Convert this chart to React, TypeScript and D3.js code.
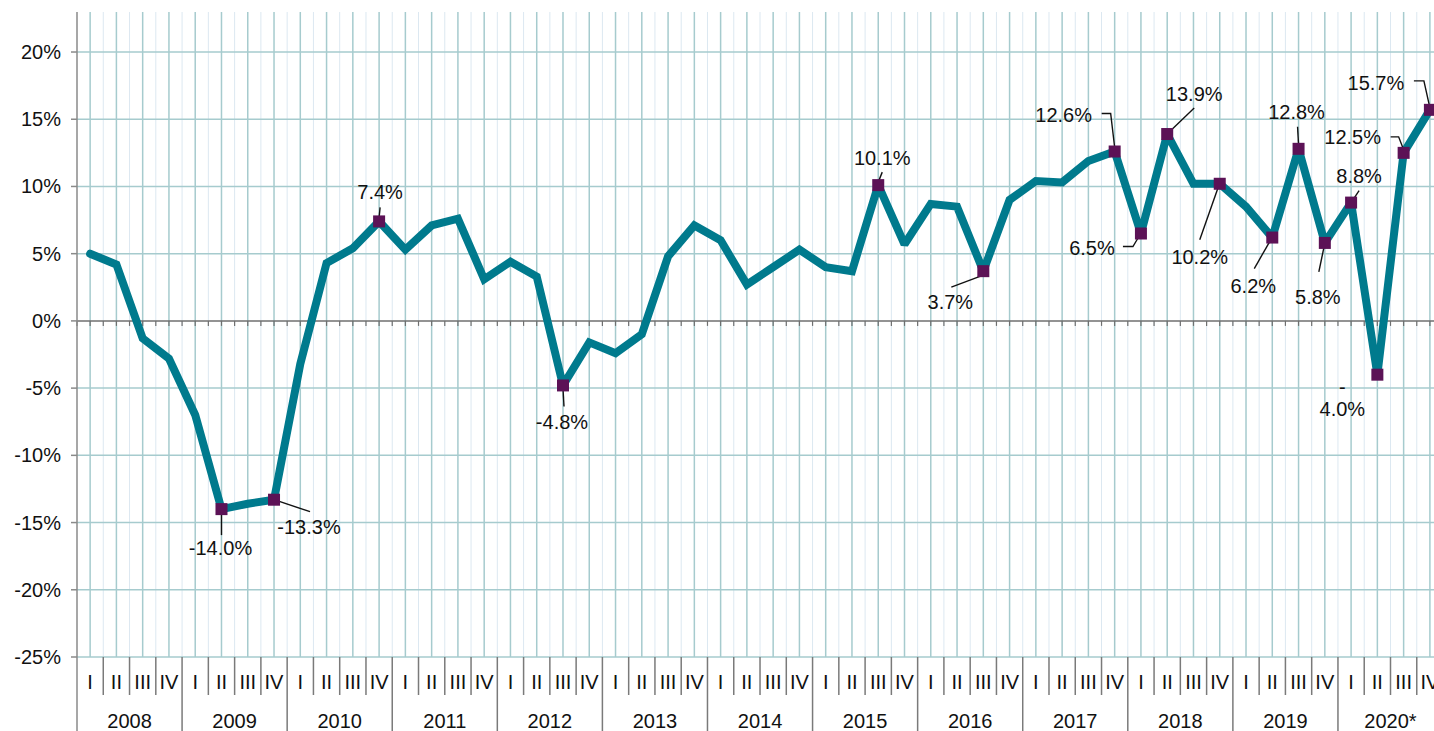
import * as d3 from "d3";
import { useEffect, useRef } from "react";

const years = ["2008", "2009", "2010", "2011", "2012", "2013", "2014", "2015", "2016", "2017", "2018", "2019", "2020*"];
const quarters = ["I", "II", "III", "IV"];

// year-on-year change, one value per quarter, 2008 I .. 2020 IV
const growth = [
  5.0, 4.2, -1.3, -2.8,
  -7.0, -14.0, -13.6, -13.3,
  -3.2, 4.3, 5.4, 7.4,
  5.3, 7.1, 7.6, 3.1,
  4.4, 3.3, -4.8, -1.6,
  -2.4, -1.0, 4.8, 7.1,
  6.0, 2.7, 4.0, 5.3,
  4.0, 3.7, 10.1, 5.7,
  8.7, 8.5, 3.7, 9.0,
  10.4, 10.3, 11.9, 12.6,
  6.5, 13.9, 10.2, 10.2,
  8.5, 6.2, 12.8, 5.8,
  8.8, -4.0, 12.5, 15.7,
];

const yTicks = [20, 15, 10, 5, 0, -5, -10, -15, -20, -25];

// quarters that get a marker and a value label
const marked = [5, 7, 11, 18, 30, 34, 39, 40, 41, 43, 45, 46, 47, 48, 49, 50, 51];

// label placement relative to the marker: label centre + leader polyline
const labelLayout: Record<number, { dx: number; dy: number; leader: [number, number][]; split?: boolean }> = {
  5: { dx: -1, dy: 39, leader: [[0, 5], [0, 26]] },
  7: { dx: 35, dy: 27, leader: [[3, 1], [36, 12]] },
  11: { dx: 1, dy: -29, leader: [[0, -4], [1, -14]] },
  18: { dx: -1, dy: 37, leader: [[0, 3], [1, 21]] },
  30: { dx: 4, dy: -27, leader: [[0, -3], [4, -13]] },
  34: { dx: -33, dy: 31, leader: [[0, 4], [-32, 16]] },
  39: { dx: -51, dy: -37, leader: [[0, -4], [-4, -38], [-13, -38]] },
  40: { dx: -49, dy: 14, leader: [[-2, 3], [-8, 13], [-18, 13]] },
  41: { dx: 27, dy: -40, leader: [[2, -2], [27, -26]] },
  43: { dx: -20, dy: 73, leader: [[-1, 2], [-20, 56]] },
  45: { dx: -19, dy: 48, leader: [[-2, 3], [-18, 31]] },
  46: { dx: -2, dy: -37, leader: [[0, -4], [-1, -22]] },
  47: { dx: -7, dy: 54, leader: [[-1, 5], [-6, 29]] },
  48: { dx: 8, dy: -27, leader: [[2, -3], [8, -12]] },
  49: { dx: -35, dy: 12, leader: [], split: true },
  50: { dx: -51, dy: -16, leader: [[0, -3], [-5, -16], [-13, -16]] },
  51: { dx: -54, dy: -27, leader: [[0, -2], [-6, -29], [-16, -29]] },
};

const W = 1434;
const H = 731;
const FONT = "'Liberation Sans', Arial, sans-serif";

export default function App() {
  const ref = useRef<SVGSVGElement>(null);

  useEffect(() => {
    if (!ref.current) return;
    const svg = d3.select(ref.current);
    svg.selectAll("*").remove();

    const left = 77;
    const qw = 26.27;
    const top = 12;
    const plotBottom = 657;

    const idx = growth.map((_, i) => i);
    const x = d3.scaleBand<number>().domain(idx).range([left, left + qw * growth.length]).padding(0);
    const cx = (i: number) => (x(i) ?? 0) + x.bandwidth() / 2;
    const y = d3.scaleLinear().domain([-25, 25]).range([plotBottom, plotBottom - 50 * 13.444]);

    const g = svg.append("g").style("font-family", FONT);

    // quarter boundary lines (light)
    g.append("g")
      .selectAll("line")
      .data(idx.slice(1))
      .join("line")
      .attr("x1", (i) => x(i) ?? 0)
      .attr("x2", (i) => x(i) ?? 0)
      .attr("y1", top)
      .attr("y2", plotBottom)
      .attr("stroke", "#dce8f1")
      .attr("stroke-width", 1);

    // quarter centre lines
    g.append("g")
      .selectAll("line")
      .data(idx)
      .join("line")
      .attr("x1", (i) => cx(i))
      .attr("x2", (i) => cx(i))
      .attr("y1", top)
      .attr("y2", plotBottom)
      .attr("stroke", "#a6cbce")
      .attr("stroke-width", 1.5);

    // horizontal grid
    g.append("g")
      .selectAll("line")
      .data(yTicks.filter((t) => t !== 0))
      .join("line")
      .attr("x1", left)
      .attr("x2", W)
      .attr("y1", (t) => y(t))
      .attr("y2", (t) => y(t))
      .attr("stroke", "#a6cbce")
      .attr("stroke-width", 1.5);

    // zero line with small ticks
    const y0 = y(0);
    g.append("line")
      .attr("x1", left)
      .attr("x2", W)
      .attr("y1", y0)
      .attr("y2", y0)
      .attr("stroke", "#6f6f6f")
      .attr("stroke-width", 1.5);
    const halfTicks = d3.range(0, growth.length * 2 + 1).map((k) => left + (k * qw) / 2);
    g.append("g")
      .selectAll("line")
      .data(halfTicks)
      .join("line")
      .attr("x1", (d) => d)
      .attr("x2", (d) => d)
      .attr("y1", y0)
      .attr("y2", y0 + 5)
      .attr("stroke", "#6f6f6f")
      .attr("stroke-width", 1.2);

    // y axis
    g.append("line")
      .attr("x1", left)
      .attr("x2", left)
      .attr("y1", top)
      .attr("y2", H)
      .attr("stroke", "#8a8a8a")
      .attr("stroke-width", 1.5);
    const yAxis = g.append("g");
    yAxis
      .selectAll("line")
      .data(yTicks)
      .join("line")
      .attr("x1", left - 6)
      .attr("x2", left)
      .attr("y1", (t) => y(t))
      .attr("y2", (t) => y(t))
      .attr("stroke", "#8a8a8a")
      .attr("stroke-width", 1.5);
    yAxis
      .selectAll("text")
      .data(yTicks)
      .join("text")
      .attr("x", 61)
      .attr("y", (t) => y(t))
      .attr("dy", "0.35em")
      .attr("text-anchor", "end")
      .style("font-size", "20px")
      .style("fill", "#111")
      .text((t) => `${t}%`);

    // category axis: quarter and year separators
    const cat = g.append("g");
    cat
      .selectAll("line.q")
      .data(idx.filter((i) => i % 4 !== 0))
      .join("line")
      .attr("class", "q")
      .attr("x1", (i) => x(i) ?? 0)
      .attr("x2", (i) => x(i) ?? 0)
      .attr("y1", plotBottom)
      .attr("y2", 695)
      .attr("stroke", "#7a7a7a")
      .attr("stroke-width", 1.5);
    cat
      .selectAll("line.y")
      .data(idx.filter((i) => i % 4 === 0 && i > 0))
      .join("line")
      .attr("class", "y")
      .attr("x1", (i) => x(i) ?? 0)
      .attr("x2", (i) => x(i) ?? 0)
      .attr("y1", plotBottom)
      .attr("y2", H)
      .attr("stroke", "#7a7a7a")
      .attr("stroke-width", 1.5);
    cat
      .selectAll("text.q")
      .data(idx)
      .join("text")
      .attr("class", "q")
      .attr("x", (i) => cx(i))
      .attr("y", 689)
      .attr("text-anchor", "middle")
      .style("font-size", "20px")
      .style("fill", "#111")
      .text((i) => quarters[i % 4]);
    cat
      .selectAll("text.y")
      .data(years)
      .join("text")
      .attr("class", "y")
      .attr("x", (_, k) => left + qw * 4 * k + qw * 2)
      .attr("y", 728)
      .attr("text-anchor", "middle")
      .style("font-size", "20px")
      .style("fill", "#111")
      .text((d) => d);

    // series line
    const line = d3
      .line<number>()
      .x((_, i) => cx(i))
      .y((d) => y(d));
    g.append("path")
      .datum(growth)
      .attr("d", line)
      .attr("fill", "none")
      .attr("stroke", "#007a8d")
      .attr("stroke-width", 8)
      .attr("stroke-linejoin", "miter")
      .attr("stroke-miterlimit", 2)
      .attr("stroke-linecap", "round");

    // leaders
    const leader = d3.line<[number, number]>();
    marked.forEach((i) => {
      const lay = labelLayout[i];
      if (!lay || lay.leader.length === 0) return;
      const px = cx(i);
      const py = y(growth[i]);
      g.append("path")
        .attr("d", leader(lay.leader.map(([a, b]) => [px + a, py + b] as [number, number])))
        .attr("fill", "none")
        .attr("stroke", "#111")
        .attr("stroke-width", 1.4);
    });

    // markers
    const ms = 12;
    g.append("g")
      .selectAll("rect")
      .data(marked)
      .join("rect")
      .attr("x", (i) => cx(i) - ms / 2)
      .attr("y", (i) => y(growth[i]) - ms / 2)
      .attr("width", ms)
      .attr("height", ms)
      .attr("fill", "#5c1256");

    // value labels
    marked.forEach((i) => {
      const lay = labelLayout[i];
      const v = growth[i];
      const px = cx(i) + lay.dx;
      const py = y(v) + lay.dy;
      const t = g
        .append("text")
        .attr("text-anchor", "middle")
        .style("font-size", "20px")
        .style("fill", "#111");
      if (lay.split) {
        t.append("tspan").attr("x", px).attr("y", py).attr("dy", "0.35em").text(v < 0 ? "-" : "");
        t.append("tspan")
          .attr("x", px)
          .attr("y", py + 22)
          .attr("dy", "0.35em")
          .text(`${Math.abs(v).toFixed(1)}%`);
      } else {
        t.attr("x", px).attr("y", py).attr("dy", "0.35em").text(`${v.toFixed(1)}%`);
      }
    });
  }, []);

  return (
    <svg
      ref={ref}
      width={W}
      height={H}
      style={{ position: "absolute", left: 0, top: 0, display: "block", background: "#fff" }}
    />
  );
}
